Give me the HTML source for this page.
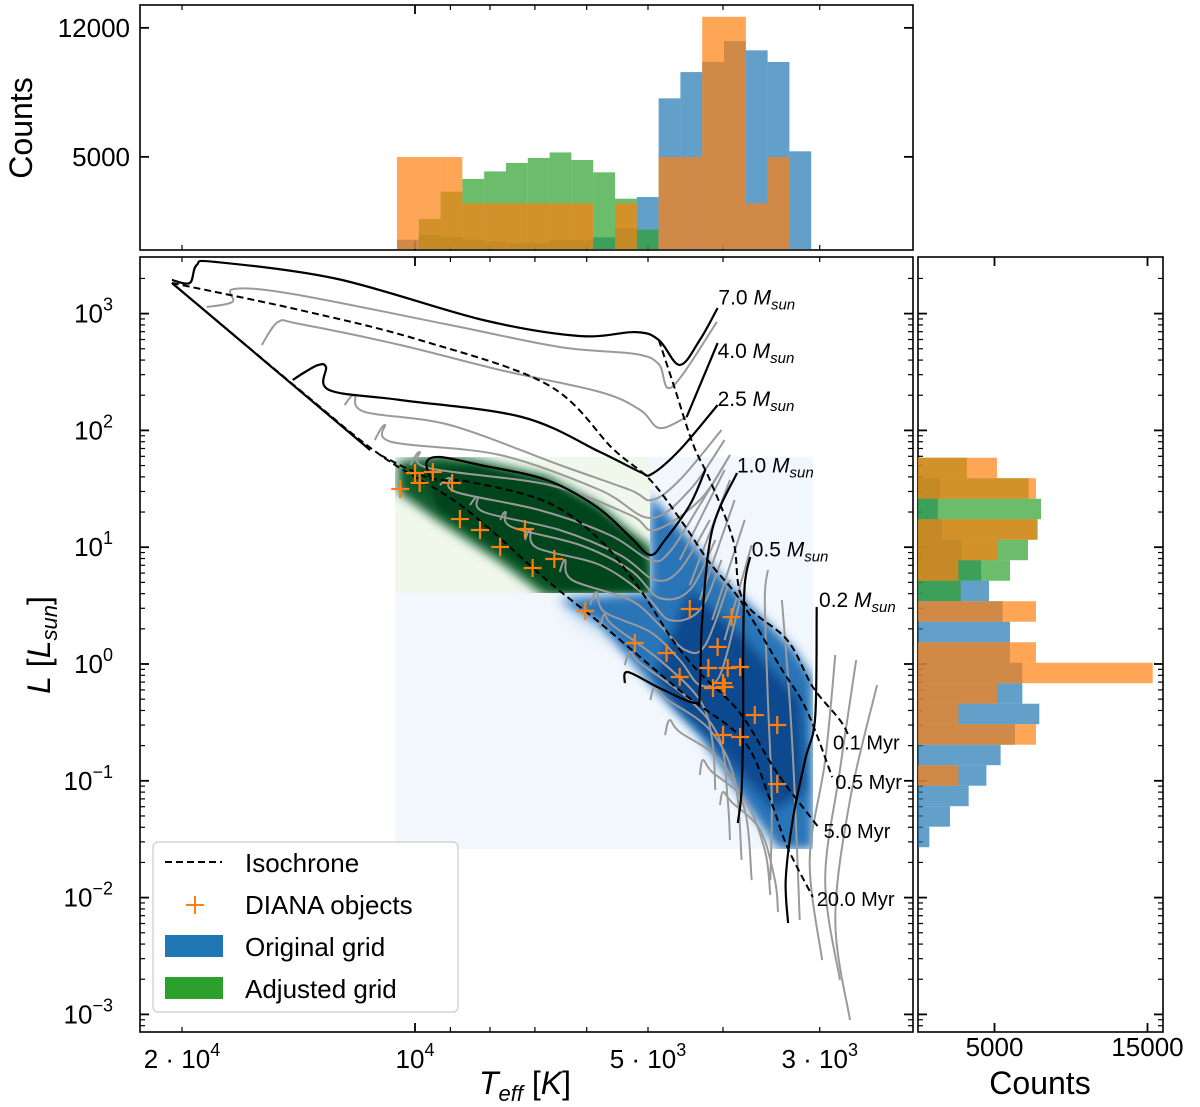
<!DOCTYPE html>
<html><head><meta charset="utf-8"><style>
html,body{margin:0;padding:0;background:#fff;}
svg{display:block;font-family:"Liberation Sans",sans-serif;}
</style></head><body>
<svg id="fig" width="1200" height="1107" viewBox="0 0 1200 1107" xmlns="http://www.w3.org/2000/svg">
<defs>
<clipPath id="mainClip"><rect x="140" y="257" width="773" height="775"/></clipPath>
<clipPath id="blueClip"><rect x="395" y="457" width="418" height="392"/></clipPath>
<clipPath id="greenClip"><rect x="395" y="457" width="255" height="136"/></clipPath>
<filter id="blur5" x="-20%" y="-20%" width="140%" height="140%"><feGaussianBlur stdDeviation="5"/></filter>
<filter id="blur3" x="-20%" y="-20%" width="140%" height="140%"><feGaussianBlur stdDeviation="3"/></filter>
<filter id="blur10" x="-30%" y="-30%" width="160%" height="160%"><feGaussianBlur stdDeviation="10"/></filter>
</defs>
<g id="heat" clip-path="url(#mainClip)">
  <rect x="395" y="457" width="418" height="392" fill="#f2f7fd"/>
  <g clip-path="url(#blueClip)">
    <polygon filter="url(#blur10)" fill="#9cc4e4" opacity="0.7" points="560,595 650,595 660,640 620,640 580,620"/>
    <polygon filter="url(#blur5)" fill="#2a74b8" points="650,495 680,528 720,575 760,615 795,650 813,678 813,849 778,849 750,810 700,736 650,684 600,624 560,600 650,593"/>
    <polygon filter="url(#blur5)" fill="#0b4a8f" points="690,590 745,640 800,700 805,790 775,810 720,750 675,705 655,675"/>
  </g>
  <rect x="395" y="457" width="255" height="136" fill="#f0f8ec"/>
  <g clip-path="url(#greenClip)">
    <polygon filter="url(#blur5)" fill="#0d5a2a" points="398,462 440,455 480,461 547,476 597,503 630,531 652,548 655,596 545,596 500,562 440,522 398,492"/>
    <polygon filter="url(#blur3)" fill="#00441b" points="420,470 470,466 545,482 595,510 640,545 648,590 560,590 500,550 440,510"/>
  </g>
  <g id="tracks"></g>
  <g id="points"></g>
</g>
<g id="axes"></g>
<g id="legend">
  <rect x="153" y="842" width="305" height="170" rx="5" fill="#fff" fill-opacity="0.85" stroke="#cccccc" stroke-width="1.2"/>
  <line x1="165" y1="862" x2="222" y2="862" stroke="#000" stroke-width="2" stroke-dasharray="7,4"/>
  <text x="245" y="872" font-size="26">Isochrone</text>
  <g stroke="#ff7f0e" stroke-width="2"><line x1="186" y1="905" x2="204" y2="905"/><line x1="195" y1="896" x2="195" y2="914"/></g>
  <text x="245" y="914" font-size="26">DIANA objects</text>
  <rect x="165" y="935" width="58" height="22" fill="#1f77b4"/>
  <text x="245" y="956" font-size="26">Original grid</text>
  <rect x="165" y="977" width="58" height="22" fill="#2ca02c"/>
  <text x="245" y="998" font-size="26">Adjusted grid</text>
</g>
</svg>
<script>
// ---------- data ----------
const topBinStart = 4.0233;
const topBinWidth = 0.02817;
const topBlue   = [500,780,650,500,400,330,330,470,470,633,1140,2820,8175,9600,10150,11280,10780,10150,5300];
const topGreen  = [0,1630,3110,3800,4210,4670,4940,5240,4830,4160,2730,1050,0,0,0,0,0,0,0];
const topOrange = [4990,4990,4990,2477,2477,2477,2477,2477,2477,0,2477,0,4990,4990,12600,12600,2477,4990,0];
const rightBinTop = 1.766;
const rightBinHeight = 0.1755;
const rightBlue   = [0,1440,1300,1570,2850,4120,4640,5530,6010,6010,6820,6820,7930,6340,5400,4470,3310,2090,740];
const rightGreen  = [3200,7230,8040,7820,7190,6010,2790,0,0,0,0,0,0,0,0,0,0,0,0];
const rightOrange = [5160,7710,0,7760,5160,2640,0,7710,0,7710,15340,5160,2640,7710,0,2640,0,0,0];
const dianaLogT = [4.019,4.000,3.994,3.977,3.952,3.942,3.916,3.890,3.858,3.848,3.820,3.780,3.716,3.675,3.658,3.645,3.609,3.591,3.621,3.596,3.580,3.602,3.600,3.615,3.561,3.532,3.602,3.580,3.532];
const dianaLogL = [1.498,1.635,1.550,1.644,1.550,1.241,1.147,1.002,1.156,0.822,0.899,0.454,0.180,0.094,-0.111,0.471,0.146,0.402,-0.034,-0.034,-0.026,-0.163,-0.197,-0.206,-0.437,-0.522,-0.608,-0.625,-1.028];
const blackTracks = [
 [[4.314,3.288],[4.291,3.262],[4.282,3.416],[4.257,3.442],[4.100,3.296],[3.912,2.945],[3.788,2.808],[3.715,2.842],[3.685,2.774],[3.658,2.560],[3.632,2.774],[3.609,3.048]],
 [[3.649,2.115],[3.609,2.748]],
 [[4.158,2.432],[4.142,2.500],[4.125,2.560],[4.115,2.543],[4.111,2.346],[4.019,2.260],[3.862,2.115],[3.761,1.815],[3.709,1.644],[3.694,1.627],[3.658,1.832],[3.609,2.217]],
 [[3.981,1.601],[3.985,1.729],[3.968,1.772],[3.916,1.704],[3.830,1.575],[3.765,1.344],[3.722,1.087],[3.696,0.933],[3.677,1.062],[3.645,1.361],[3.625,1.661]],
 [[3.729,-0.163],[3.725,-0.069],[3.684,-0.206],[3.638,-0.334],[3.632,-0.223],[3.629,0.377],[3.616,1.147],[3.584,1.635]],
 [[3.567,0.916],[3.574,0.676],[3.576,0.120],[3.576,-0.480],[3.578,-1.079],[3.583,-1.361]],
 [[3.481,0.488],[3.483,-0.454],[3.496,-0.822],[3.512,-1.336],[3.521,-1.850],[3.518,-2.218]],
 [[4.314,3.262],[4.058,1.832]]
];
const grayTracks = [
 [[4.269,3.056],[4.236,3.099],[4.234,3.211],[4.158,3.168],[3.961,2.911],[3.813,2.714],[3.715,2.654],[3.685,2.568],[3.668,2.372],[3.610,2.928]],
 [[4.198,2.731],[4.177,2.928],[4.149,2.911],[4.019,2.731],[3.890,2.517],[3.761,2.329],[3.709,2.175],[3.684,2.020],[3.649,2.115]],
 [[4.091,2.217],[4.078,2.303],[4.065,2.158],[3.955,2.046],[3.813,1.704],[3.722,1.490],[3.694,1.404],[3.658,1.575],[3.604,2.003]],
 [[4.052,1.918],[4.039,2.046],[4.030,1.901],[3.890,1.789],[3.761,1.490],[3.696,1.250],[3.645,1.490],[3.600,1.918]],
 [[4.006,1.704],[3.994,1.815],[3.983,1.678],[3.826,1.532],[3.722,1.276],[3.690,1.147],[3.632,1.404],[3.593,1.789]],
 [[3.968,1.532],[3.955,1.592],[3.947,1.473],[3.839,1.318],[3.748,1.104],[3.696,0.890],[3.671,0.959],[3.632,1.361],[3.593,1.789]],
 [[3.929,1.361],[3.919,1.430],[3.911,1.301],[3.813,1.147],[3.735,0.933],[3.690,0.719],[3.658,0.805],[3.619,1.233]],
 [[3.890,1.233],[3.883,1.301],[3.875,1.173],[3.787,1.019],[3.722,0.805],[3.684,0.565],[3.645,0.634],[3.612,1.062]],
 [[3.858,1.062],[3.851,1.147],[3.842,0.993],[3.761,0.848],[3.703,0.591],[3.671,0.377],[3.632,0.462],[3.604,0.890]],
 [[3.813,0.788],[3.806,0.890],[3.797,0.719],[3.722,0.548],[3.684,0.334],[3.651,0.120],[3.625,0.162],[3.593,0.719]],
 [[3.774,0.505],[3.765,0.616],[3.755,0.445],[3.696,0.274],[3.658,0.034],[3.632,-0.180],[3.606,-0.094],[3.580,0.548]],
 [[3.761,0.308],[3.755,0.428],[3.745,0.334],[3.684,0.034],[3.632,-0.308],[3.616,-0.651],[3.612,-1.079]],
 [[3.729,-0.009],[3.722,0.103],[3.709,0.008],[3.645,-0.308],[3.606,-0.651],[3.596,-1.164],[3.593,-1.507]],
 [[3.696,-0.308],[3.690,-0.197],[3.677,-0.291],[3.619,-0.565],[3.587,-0.993],[3.578,-1.678]],
 [[3.677,-0.608],[3.671,-0.480],[3.658,-0.582],[3.606,-0.822],[3.574,-1.250],[3.565,-1.850]],
 [[3.632,-0.950],[3.628,-0.822],[3.616,-0.925],[3.574,-1.164],[3.548,-1.593],[3.541,-1.978]],
 [[3.606,-1.207],[3.602,-1.096],[3.591,-1.182],[3.554,-1.421],[3.535,-1.850],[3.531,-2.124]],
 [[3.544,0.805],[3.548,0.548],[3.544,-0.308],[3.539,-1.164],[3.541,-1.850]],
 [[3.526,0.548],[3.516,-0.308],[3.509,-1.164],[3.503,-2.192]],
 [[3.457,0.077],[3.470,-0.822],[3.490,-1.678],[3.474,-2.535]],
 [[3.430,0.034],[3.451,-0.908],[3.470,-1.850],[3.451,-2.706]],
 [[3.403,-0.180],[3.438,-1.164],[3.457,-2.192],[3.438,-3.048]],
 [[3.658,0.890],[3.600,1.661]],
 [[3.645,0.676],[3.593,1.575]],
 [[3.632,0.548],[3.587,1.404]],
 [[3.616,0.377],[3.574,1.233]],
 [[3.600,0.205],[3.565,1.019]]
];
const isochrones = [
 [[4.314,3.262],[4.149,2.346],[4.045,1.789],[3.938,1.344],[3.830,0.719],[3.761,0.351],[3.654,-0.248],[3.576,-0.651],[3.541,-1.164],[3.519,-1.567],[3.486,-1.995]],
 [[4.045,1.789],[3.981,1.592],[3.929,1.558],[3.830,1.387],[3.761,1.062],[3.709,0.634],[3.667,0.205],[3.632,-0.077],[3.580,-0.420],[3.532,-0.933],[3.479,-1.396]],
 [[4.314,3.262],[4.149,3.031],[3.994,2.774],[3.828,2.389],[3.744,1.841],[3.696,1.575],[3.654,1.207],[3.619,0.865],[3.580,0.548],[3.528,-0.026],[3.494,-0.394],[3.461,-0.968]],
 [[3.685,2.774],[3.665,2.372],[3.641,1.884],[3.619,1.575],[3.589,1.062],[3.576,0.548],[3.519,0.205],[3.486,-0.197],[3.451,-0.480],[3.439,-0.625]]
];
const massLabels = ["7.0","4.0","2.5","1.0","0.5","0.2"];
const massLabelLogT = [3.608,3.609,3.609,3.584,3.565,3.478];
const massLabelLogL = [3.08,2.62,2.21,1.64,0.92,0.49];
const ageLabels = ["0.1 Myr","0.5 Myr","5.0 Myr","20.0 Myr"];
const ageLabelLogT = [3.460,3.457,3.472,3.481];
const ageLabelLogL = [-0.73,-1.07,-1.49,-2.07];
const yTickExp = [3,2,1,0,-1,-2,-3];
const xTickLabels = [["2 · 10","4",4.30103],["10","4",4],["5 · 10","3",3.69897],["3 · 10","3",3.47712]];
const topYTicks = [5000,12000];
const rightXTicks = [5000,15000];

// ---------- scales ----------
const X = lt => 415 + (4 - lt) * 774;
const Y = ll => 664 - ll * 116.8;
const TY = c => 249 - c * 0.01843;
const RX = c => 918 + c * 0.0153;
const NS = "http://www.w3.org/2000/svg";
const svg = document.getElementById('fig');
function mk(tag, attrs, parent){const e=document.createElementNS(NS,tag);for(const k in attrs)e.setAttribute(k,attrs[k]);(parent||svg).appendChild(e);return e;}
function smooth(pts){
  const p = pts.map(q=>[X(q[0]),Y(q[1])]);
  if(p.length<3) return 'M'+p.map(q=>q.join(',')).join(' L');
  let d='M'+p[0][0]+','+p[0][1];
  for(let i=0;i<p.length-1;i++){
    const p0=p[i-1]||p[i],p1=p[i],p2=p[i+1],p3=p[i+2]||p2;
    const c1=[p1[0]+(p2[0]-p0[0])/6,p1[1]+(p2[1]-p0[1])/6];
    const c2=[p2[0]-(p3[0]-p1[0])/6,p2[1]-(p3[1]-p1[1])/6];
    d+=` C${c1[0].toFixed(1)},${c1[1].toFixed(1)} ${c2[0].toFixed(1)},${c2[1].toFixed(1)} ${p2[0].toFixed(1)},${p2[1].toFixed(1)}`;
  }
  return d;
}
const tracks = document.getElementById('tracks');
grayTracks.forEach((t,i)=>{
  const e=mk('path',{d:smooth(t),fill:'none',stroke:'#9a9a9a','stroke-width':2},tracks);
  
  
});
blackTracks.forEach((t,i)=>{
  const e=mk('path',{d:smooth(t),fill:'none',stroke:'#000','stroke-width':2.2},tracks);
  
  
});
isochrones.forEach((t,i)=>{
  const e=mk('path',{d:smooth(t),fill:'none',stroke:'#000','stroke-width':2,'stroke-dasharray':'7,4'},tracks);
  
  
});
const pg=document.getElementById('points');
dianaLogT.forEach((lt,i)=>{
  const x=X(lt),y=Y(dianaLogL[i]);
  const g=mk('g',{stroke:'#ff7f0e','stroke-width':2.2},pg);
  
  
  mk('line',{x1:x-9,y1:y,x2:x+9,y2:y},g);mk('line',{x1:x,y1:y-9,x2:x,y2:y+9},g);
});
massLabels.forEach((m,i)=>{
  const t=mk('text',{x:X(massLabelLogT[i]),y:Y(massLabelLogL[i]),'font-size':21});
  
  
  t.innerHTML=m+' <tspan font-style="italic">M</tspan><tspan font-style="italic" font-size="15" dy="5">sun</tspan>';
});
ageLabels.forEach((a,i)=>{
  const t=mk('text',{x:X(ageLabelLogT[i]),y:Y(ageLabelLogL[i]),'font-size':20});
  
  
  t.textContent=a;
});

// ---------- histograms ----------
const hg=mk('g',{});


const cols={b:'#1f77b4',g:'#2ca02c',o:'#ff7f0e'};
[['b',topBlue],['g',topGreen],['o',topOrange]].forEach(([k,arr])=>{
  arr.forEach((c,i)=>{
    if(!c) return;
    const l=topBinStart - i*topBinWidth, r=l-topBinWidth;
    const e=mk('rect',{x:X(l),y:TY(c),width:X(r)-X(l),height:TY(0)-TY(c),fill:cols[k],'fill-opacity':0.7},hg);
    
    
  });
});
[['b',rightBlue],['g',rightGreen],['o',rightOrange]].forEach(([k,arr])=>{
  arr.forEach((c,i)=>{
    if(!c) return;
    const t=rightBinTop - i*rightBinHeight, b=t-rightBinHeight;
    const e=mk('rect',{x:RX(0),y:Y(t),width:RX(c)-RX(0),height:Y(b)-Y(t),fill:cols[k],'fill-opacity':0.7},hg);
    
    
  });
});

// ---------- axes ----------
const ax=document.getElementById('axes');
function frame(x,y,w,h,name){const e=mk('rect',{x:x,y:y,width:w,height:h,fill:'none',stroke:'#000','stroke-width':1.6},ax);}
frame(140,5,773,245,'teff-hist-frame');
frame(140,257,773,775,'main-plot-frame');
frame(918,257,245,775,'lum-hist-frame');
function tk(x1,y1,x2,y2,w){mk('line',{x1,y1,x2,y2,stroke:'#000','stroke-width':w||1.4},ax);}
for(let e=-4;e<=3;e++){
  for(let m=1;m<10;m++){
    const ll=e+Math.log10(m); const y=Y(ll);
    if(y<258||y>1031) continue;
    const L=m===1?9:5;
    tk(140,y,140+L,y,m===1?1.8:1.2);tk(913,y,913-L,y,m===1?1.8:1.2);
    tk(918,y,918+L,y,m===1?1.8:1.2);tk(1163,y,1163-L,y,m===1?1.8:1.2);
  }
}
yTickExp.forEach(e=>{
  const t=mk('text',{x:113,y:Y(e)+9,'font-size':26,'text-anchor':'end'},ax);
  
  
  t.innerHTML='10<tspan font-size="18" dy="-12">'+(e<0?'\u2212'+(-e):e)+'</tspan>';
});
[20000,10000,9000,8000,7000,6000,5000,4000,3000].forEach(v=>{
  const x=X(Math.log10(v)); const L=(v===10000)?9:5;
  tk(x,1032,x,1032-L,L>5?1.8:1.2);tk(x,257,x,257+L,L>5?1.8:1.2);
  tk(x,250,x,250-L,L>5?1.8:1.2);tk(x,5,x,5+L,L>5?1.8:1.2);
});
xTickLabels.forEach(([a,b,lt])=>{
  const t=mk('text',{x:X(lt),y:1068,'font-size':26,'text-anchor':'middle'},ax);
  
  
  t.innerHTML=a+'<tspan font-size="18" dy="-12">'+b+'</tspan>';
});
topYTicks.forEach(c=>{
  tk(140,TY(c),149,TY(c),1.8);tk(913,TY(c),904,TY(c),1.8);
  const t=mk('text',{x:130,y:TY(c)+9,'font-size':26,'text-anchor':'end'},ax);
  
  
  t.textContent=c;
});
rightXTicks.forEach(c=>{
  tk(RX(c),1032,RX(c),1023,1.8);tk(RX(c),257,RX(c),266,1.8);
  const t=mk('text',{x:RX(c),y:1056,'font-size':26,'text-anchor':'middle'},ax);
  
  
  t.textContent=c;
});
let t=mk('text',{x:0,y:0,'font-size':32,'text-anchor':'middle',transform:'translate(32,128) rotate(-90)'},ax);


t.textContent='Counts';
t=mk('text',{x:1040,y:1094,'font-size':32,'text-anchor':'middle'},ax);


t.textContent='Counts';
t=mk('text',{x:0,y:0,'font-size':32,'text-anchor':'middle',transform:'translate(50,645) rotate(-90)'},ax);


t.innerHTML='<tspan font-style="italic">L</tspan> [<tspan font-style="italic">L</tspan><tspan font-style="italic" font-size="22" dy="7">sun</tspan><tspan dy="-7">]</tspan>';
t=mk('text',{x:525,y:1094,'font-size':32,'text-anchor':'middle'},ax);


t.innerHTML='<tspan font-style="italic">T</tspan><tspan font-style="italic" font-size="22" dy="7">eff</tspan><tspan dy="-7"> [</tspan><tspan font-style="italic">K</tspan>]';
svg.appendChild(document.getElementById('legend'));
</script>
</body></html>
